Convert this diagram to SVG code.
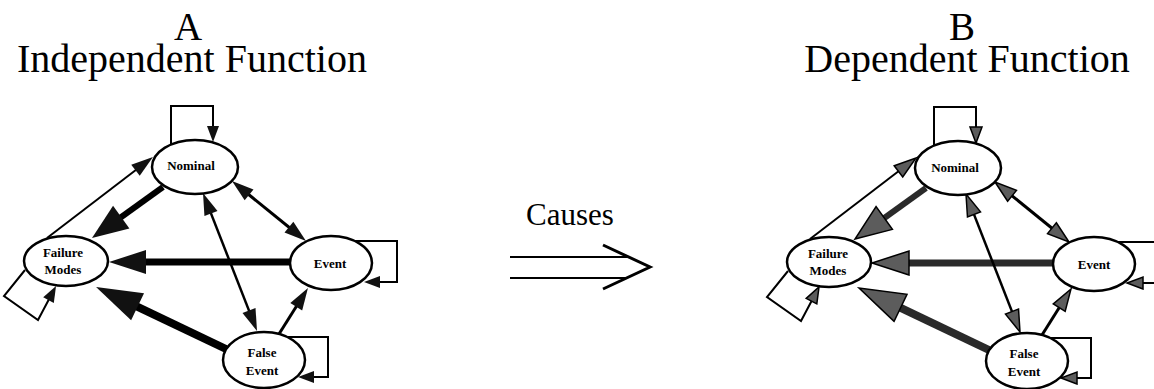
<svg xmlns="http://www.w3.org/2000/svg" width="1154" height="389" viewBox="0 0 1154 389">
  <style>
    .title { font-family: "Liberation Serif", "Times New Roman", serif; font-size: 40px; text-anchor: middle; fill: #000; }
    .letter { font-family: "Liberation Serif", "Times New Roman", serif; font-size: 39px; text-anchor: middle; fill: #000; }
    .causes { font-family: "Liberation Serif", "Times New Roman", serif; font-size: 31px; text-anchor: middle; fill: #000; }
    .node ellipse { fill: #fff; stroke: #000; stroke-width: 2.5; }
    .lbl { font-family: "Liberation Serif", "Times New Roman", serif; font-weight: bold; font-size: 13px; text-anchor: middle; fill: #000; }
    .e { fill: none; stroke: #000; stroke-linecap: butt; stroke-linejoin: miter; }
    .b .thick { stroke: #2a2a2a; }
    .w2 { stroke-width: 2; }
    .w25 { stroke-width: 2.5; }
    .w3 { stroke-width: 3; }
    .w6 { stroke-width: 6; }
    .w7 { stroke-width: 7; }
    .w8 { stroke-width: 8; }
    .hk path { fill: #111; }
    .hg path { fill: #5c5c5c; stroke: #000; stroke-width: 1.5; }
    marker { overflow: visible; }
  </style>
  <defs>
    <!-- solid heads -->
    <marker id="kHuge" class="hk" viewBox="0 0 46 30" refX="26" refY="15" markerWidth="46" markerHeight="30" markerUnits="userSpaceOnUse" orient="auto-start-reverse"><path d="M0,0 L46,15 L0,30 z"/></marker>
    <marker id="kBig" class="hk" viewBox="0 0 36 28" refX="20" refY="14" markerWidth="36" markerHeight="28" markerUnits="userSpaceOnUse" orient="auto-start-reverse"><path d="M0,0 L36,14 L0,28 z"/></marker>
    <marker id="kWide" class="hk" viewBox="0 0 37 24" refX="21" refY="12" markerWidth="37" markerHeight="24" markerUnits="userSpaceOnUse" orient="auto-start-reverse"><path d="M0,0 L37,12 L0,24 z"/></marker>
    <marker id="kMed" class="hk" viewBox="0 0 22 14" refX="14" refY="7" markerWidth="22" markerHeight="14" markerUnits="userSpaceOnUse" orient="auto-start-reverse"><path d="M0,0 L22,7 L0,14 z"/></marker>
    <marker id="kLoop" class="hk" viewBox="0 0 16 12" refX="10" refY="6" markerWidth="16" markerHeight="12" markerUnits="userSpaceOnUse" orient="auto-start-reverse"><path d="M0,0 L16,6 L0,12 z"/></marker>
    <!-- shaded heads -->
    <marker id="gHuge" class="hg" viewBox="0 0 46 30" refX="26" refY="15" markerWidth="46" markerHeight="30" markerUnits="userSpaceOnUse" orient="auto-start-reverse"><path d="M0,0 L46,15 L0,30 z"/></marker>
    <marker id="gBig" class="hg" viewBox="0 0 36 28" refX="20" refY="14" markerWidth="36" markerHeight="28" markerUnits="userSpaceOnUse" orient="auto-start-reverse"><path d="M0,0 L36,14 L0,28 z"/></marker>
    <marker id="gWide" class="hg" viewBox="0 0 37 24" refX="21" refY="12" markerWidth="37" markerHeight="24" markerUnits="userSpaceOnUse" orient="auto-start-reverse"><path d="M0,0 L37,12 L0,24 z"/></marker>
    <marker id="gMed" class="hg" viewBox="0 0 22 14" refX="14" refY="7" markerWidth="22" markerHeight="14" markerUnits="userSpaceOnUse" orient="auto-start-reverse"><path d="M0,0 L22,7 L0,14 z"/></marker>
    <marker id="gLoop" class="hg" viewBox="0 0 16 12" refX="10" refY="6" markerWidth="16" markerHeight="12" markerUnits="userSpaceOnUse" orient="auto-start-reverse"><path d="M0,0 L16,6 L0,12 z"/></marker>
  </defs>

  <rect width="1154" height="389" fill="#fff"/>

  <!-- headings -->
  <text class="letter" x="188" y="40">A</text>
  <text class="title" x="192" y="72">Independent Function</text>
  <text class="letter" x="962" y="40">B</text>
  <text class="title" x="967" y="72">Dependent Function</text>

  <!-- central "causes" arrow -->
  <g id="causes">
    <text class="causes" x="570" y="225">Causes</text>
    <path d="M510,257 H627 M510,278 H627" fill="none" stroke="#000" stroke-width="2"/>
    <path d="M603,245 L650,267 L603,289" fill="none" stroke="#000" stroke-width="3" stroke-linejoin="miter"/>
  </g>

  <!-- state graph A: independent function -->
  <g id="graph-a">
    <g id="a-connectors">
      <path class="e w2" d="M171,145 V106 H213 V136" marker-end="url(#kLoop)"/>
      <path class="e w2" d="M355,241 H397 V282 H370" marker-end="url(#kLoop)"/>
      <path class="e w2" d="M288,337 H328 V377 H304" marker-end="url(#kLoop)"/>
      <path class="e w2" d="M25,270 L4,296 L38,320 L53.2,291.3" marker-end="url(#kLoop)"/>
      <path class="e w2" d="M47,238 L146.6,161.8" marker-end="url(#kMed)"/>
      <path class="e w6 thick" d="M163,187 L105,228.7" marker-end="url(#kBig)"/>
      <path class="e w7 thick" d="M290,262 L125,262" marker-end="url(#kWide)"/>
      <path class="e w8 thick" d="M226,349 L114.1,295.6" marker-end="url(#kHuge)"/>
      <path class="e w3" d="M238.2,186 L299.8,236" marker-start="url(#kMed)" marker-end="url(#kMed)"/>
      <path class="e w25" d="M205.9,200.4 L254.1,323.6" marker-start="url(#kMed)" marker-end="url(#kMed)"/>
      <path class="e w3" d="M279,334 L303.7,294.8" marker-end="url(#kMed)"/>
    </g>
    <g id="a-nominal" class="node">
      <ellipse cx="195" cy="167" rx="43" ry="27"/>
      <text class="lbl" x="191" y="170">Nominal</text>
    </g>
    <g id="a-failure-modes" class="node">
      <ellipse cx="66" cy="261" rx="42" ry="25"/>
      <text class="lbl" x="63" y="257">Failure</text>
      <text class="lbl" x="63" y="274">Modes</text>
    </g>
    <g id="a-event" class="node">
      <ellipse cx="331" cy="263" rx="41" ry="27"/>
      <text class="lbl" x="330" y="268">Event</text>
    </g>
    <g id="a-false-event" class="node">
      <ellipse cx="264" cy="360" rx="41" ry="28"/>
      <text class="lbl" x="262" y="357">False</text>
      <text class="lbl" x="262" y="375">Event</text>
    </g>
  </g>

  <!-- state graph B: dependent function -->
  <g id="graph-b" class="b" transform="translate(763,1)">
    <g id="b-connectors">
      <path class="e w2" d="M171,145 V106 H213 V136" marker-end="url(#gLoop)"/>
      <path class="e w2" d="M355,241 H397 V282 H370" marker-end="url(#gLoop)"/>
      <path class="e w2" d="M288,337 H328 V377 H304" marker-end="url(#gLoop)"/>
      <path class="e w2" d="M25,270 L4,296 L38,320 L53.2,291.3" marker-end="url(#gLoop)"/>
      <path class="e w2" d="M47,238 L146.6,161.8" marker-end="url(#gMed)"/>
      <path class="e w6 thick" d="M163,187 L105,228.7" marker-end="url(#gBig)"/>
      <path class="e w7 thick" d="M290,262 L125,262" marker-end="url(#gWide)"/>
      <path class="e w8 thick" d="M226,349 L114.1,295.6" marker-end="url(#gHuge)"/>
      <path class="e w3" d="M238.2,186 L299.8,236" marker-start="url(#gMed)" marker-end="url(#gMed)"/>
      <path class="e w25" d="M205.9,200.4 L254.1,323.6" marker-start="url(#gMed)" marker-end="url(#gMed)"/>
      <path class="e w3" d="M279,334 L303.7,294.8" marker-end="url(#gMed)"/>
    </g>
    <g id="b-nominal" class="node">
      <ellipse cx="195" cy="167" rx="43" ry="27"/>
      <text class="lbl" x="192" y="171">Nominal</text>
    </g>
    <g id="b-failure-modes" class="node">
      <ellipse cx="66" cy="261" rx="42" ry="25"/>
      <text class="lbl" x="65" y="257">Failure</text>
      <text class="lbl" x="65" y="274">Modes</text>
    </g>
    <g id="b-event" class="node">
      <ellipse cx="331" cy="263" rx="41" ry="27"/>
      <text class="lbl" x="331" y="268">Event</text>
    </g>
    <g id="b-false-event" class="node">
      <ellipse cx="264" cy="360" rx="41" ry="28"/>
      <text class="lbl" x="261" y="357">False</text>
      <text class="lbl" x="261" y="375">Event</text>
    </g>
  </g>
</svg>
